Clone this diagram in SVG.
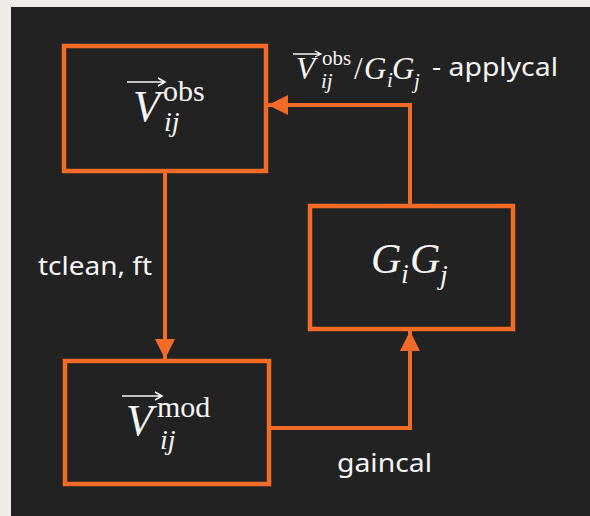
<svg xmlns="http://www.w3.org/2000/svg" width="590" height="516" viewBox="0 0 590 516">
<defs>
<style>
.box{fill:none;stroke:#f26b27;stroke-width:4.5}
.con{fill:none;stroke:#f26b27;stroke-width:4}
.m{font-family:"Liberation Serif","Times New Roman",serif;fill:#f5f5f5;font-style:italic}
.up{font-style:normal}
.s{font-family:"Noto Sans","Open Sans",sans-serif;fill:#f5f5f5}
.vec{stroke:#f5f5f5;stroke-width:1.6;fill:none}
</style>
<marker id="ah" markerUnits="userSpaceOnUse" markerWidth="22" markerHeight="20" refX="20" refY="10" orient="auto">
<path d="M0,0 L20,10 L0,20 Z" fill="#f26b27"/>
</marker>
</defs>
<rect x="0" y="0" width="590" height="516" fill="#efece8"/>
<rect x="11" y="7" width="579" height="509" fill="#222222"/>

<g id="connectors">
<path class="con" d="M165,173 V359" marker-end="url(#ah)"/>
<path class="con" d="M271,428 H410 V331" marker-end="url(#ah)"/>
<path class="con" d="M410,204 V105 H268" marker-end="url(#ah)"/>
</g>

<g id="vobs">
<rect class="box" x="64" y="46" width="202" height="125"/>
<text class="m" x="133" y="121" font-size="44">V<tspan class="up" x="163" y="101" font-size="30">obs</tspan><tspan x="164" y="131" font-size="28">ij</tspan></text>
<path class="vec" d="M127,82 H164 M158,78 L165,82 L158,86"/>
</g>

<g id="gigj">
<rect class="box" x="310" y="206" width="203" height="123"/>
<text class="m" x="371" y="273" font-size="42">G<tspan x="401" y="283" font-size="28">i</tspan><tspan x="410" y="273">G</tspan><tspan x="440" y="284" font-size="28">j</tspan></text>
</g>

<g id="vmod">
<rect class="box" x="65" y="361" width="204" height="123"/>
<text class="m" x="126" y="435" font-size="44">V<tspan class="up" x="157" y="417" font-size="30">mod</tspan><tspan x="160" y="449" font-size="28">ij</tspan></text>
<path class="vec" d="M122,396 H161 M155,392 L162,396 L155,400"/>
</g>

<g id="labels">
<text class="s" x="38" y="275" font-size="25" textLength="114" lengthAdjust="spacingAndGlyphs">tclean, ft</text>
<text class="s" x="337" y="472" font-size="25" textLength="95" lengthAdjust="spacingAndGlyphs">gaincal</text>
<text class="m" x="296" y="79" font-size="31">V<tspan class="up" x="322" y="65" font-size="21">obs</tspan><tspan x="321" y="88" font-size="21">ij</tspan><tspan class="up" x="354" y="79" font-size="31">/</tspan><tspan x="364" y="79" font-size="31">G</tspan><tspan x="387" y="87" font-size="21">i</tspan><tspan x="392" y="79" font-size="31">G</tspan><tspan x="414" y="88" font-size="21">j</tspan></text>
<path class="vec" d="M293,54 H320 M315,51 L321,54 L315,57" style="stroke-width:1.3"/>
<text class="s" x="432" y="76" font-size="25" textLength="126" lengthAdjust="spacingAndGlyphs">- applycal</text>
</g>
</svg>
